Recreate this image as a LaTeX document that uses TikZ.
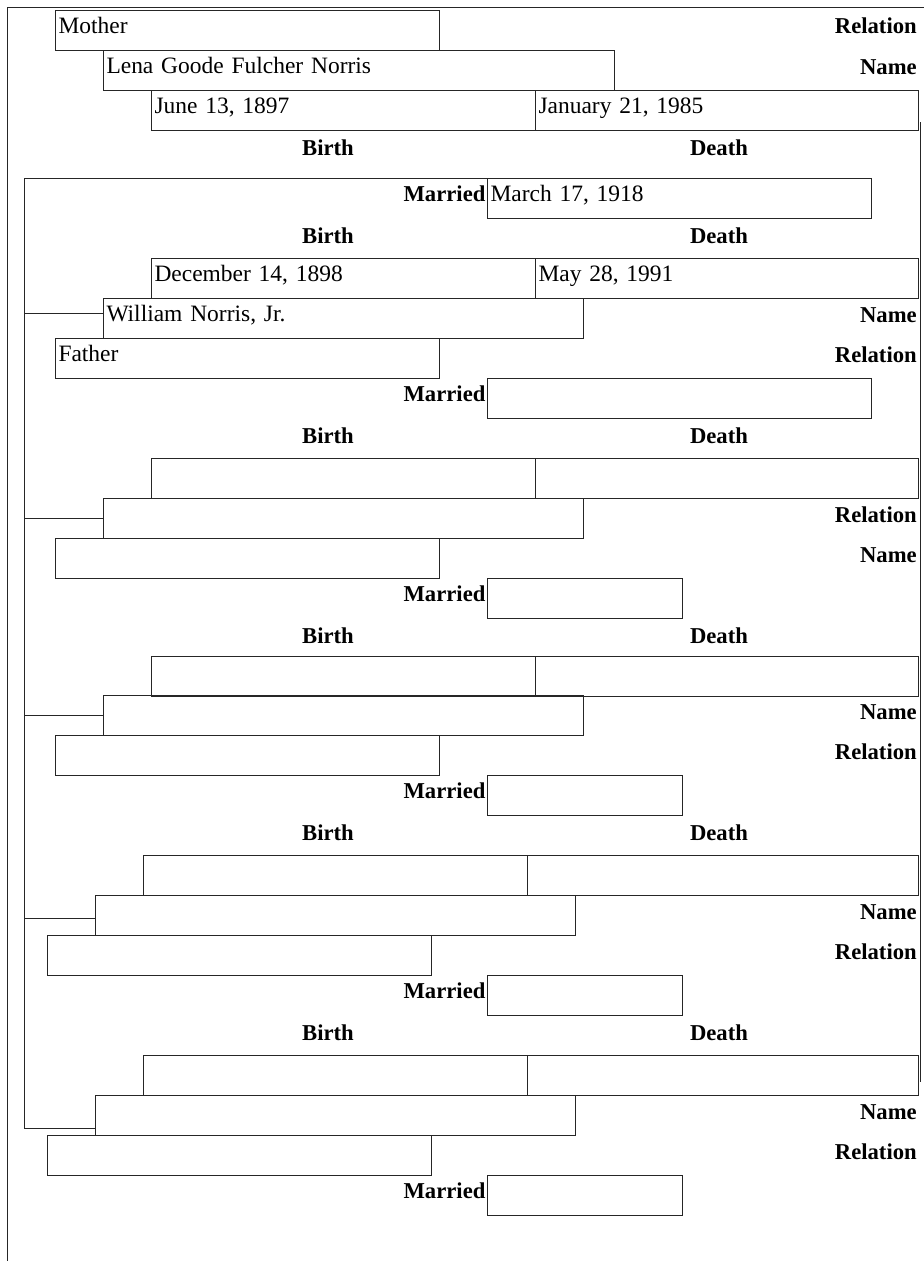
\documentclass[tikz,border=0pt]{standalone}
\usepackage{fontspec}
\setmainfont{Liberation Serif}
\usetikzlibrary{positioning}

\begin{document}
\begin{tikzpicture}[x=0.75pt,y=0.75pt,yscale=-1,xscale=1,
    every node/.style={font=\fontsize{17.6}{20}\selectfont},
    field/.style={draw=black!85, line width=0.75pt, anchor=north west, inner xsep=2.25pt, inner ysep=0pt,
      minimum height=30pt, text height=10.2pt, text depth=5pt, align=left, text width=#1},
    lbl/.style={font=\fontsize{17}{20}\selectfont\bfseries, inner sep=0pt},
    rule/.style={draw=black!85, line width=0.75pt}]
\useasboundingbox (0,0) rectangle (924,1261);

%Page frame
\draw [rule] (924,7) -- (7,7) -- (7,1261) ;
\draw [rule] (920,122) -- (920,1082) ;

% Mother
\node [field=283.5pt] (rel1) at (55,10) {Mother};
\node [field=378.75pt] (name1) at (103,50) {Lena Goode Fulcher Norris};
\node [field=283.5pt] (birth1) at (151,90) {June 13, 1897};
\node [field=282.75pt] (death1) at (535,90) {January 21, 1985};
\node [lbl, anchor=base east] (relT1) at (917,33) {Relation};
\node [lbl, anchor=base east] (nameT1) at (917,74) {Name};
\node [lbl, anchor=base] (birthT1) at (328,155) {Birth};
\node [lbl, anchor=base] (deathT1) at (719,155) {Death};
\node [field=283.5pt] (mar1) at (487,178) {March 17, 1918};
\node [lbl, left=1pt of mar1.base west, anchor=base east] (marT1) {Married};

% Father
\node [lbl, anchor=base] (birthT2) at (328,243) {Birth};
\node [lbl, anchor=base] (deathT2) at (719,243) {Death};
\node [field=283.5pt] (birth2) at (151,258) {December 14, 1898};
\node [field=282.75pt] (death2) at (535,258) {May 28, 1991};
\node [field=355.5pt] (name2) at (103,298) {William Norris, Jr.};
\node [field=283.5pt] (rel2) at (55,338) {Father};
\node [lbl, anchor=base east] (nameT2) at (917,322) {Name};
\node [lbl, anchor=base east] (relT2) at (917,362) {Relation};
\node [field=283.5pt] (mar2) at (487,378) {};
\node [lbl, left=1pt of mar2.base west, anchor=base east] (marT2) {Married};

% Child 1
\node [lbl, anchor=base] (birthT3) at (328,443) {Birth};
\node [lbl, anchor=base] (deathT3) at (719,443) {Death};
\node [field=283.5pt] (birth3) at (151,458) {};
\node [field=282.75pt] (death3) at (535,458) {};
\node [field=355.5pt] (name3) at (103,498) {};
\node [field=283.5pt] (rel3) at (55,538) {};
\node [lbl, anchor=base east] (relT3) at (917,522) {Relation};
\node [lbl, anchor=base east] (nameT3) at (917,562) {Name};
\node [field=141.75pt] (mar3) at (487,578) {};
\node [lbl, left=1pt of mar3.base west, anchor=base east] (marT3) {Married};

% Child 2
\node [lbl, anchor=base] (birthT4) at (328,643) {Birth};
\node [lbl, anchor=base] (deathT4) at (719,643) {Death};
\node [field=283.5pt] (birth4) at (151,656) {};
\node [field=282.75pt] (death4) at (535,656) {};
\node [field=355.5pt] (name4) at (103,695) {};
\node [field=283.5pt] (rel4) at (55,735) {};
\node [lbl, anchor=base east] (nameT4) at (917,719) {Name};
\node [lbl, anchor=base east] (relT4) at (917,759) {Relation};
\node [field=141.75pt] (mar4) at (487,775) {};
\node [lbl, left=1pt of mar4.base west, anchor=base east] (marT4) {Married};

% Child 3
\node [lbl, anchor=base] (birthT5) at (328,840) {Birth};
\node [lbl, anchor=base] (deathT5) at (719,840) {Death};
\node [field=283.5pt] (birth5) at (143,855) {};
\node [field=288.75pt] (death5) at (527,855) {};
\node [field=355.5pt] (name5) at (95,895) {};
\node [field=283.5pt] (rel5) at (47,935) {};
\node [lbl, anchor=base east] (nameT5) at (917,919) {Name};
\node [lbl, anchor=base east] (relT5) at (917,959) {Relation};
\node [field=141.75pt] (mar5) at (487,975) {};
\node [lbl, left=1pt of mar5.base west, anchor=base east] (marT5) {Married};

% Child 4
\node [lbl, anchor=base] (birthT6) at (328,1040) {Birth};
\node [lbl, anchor=base] (deathT6) at (719,1040) {Death};
\node [field=283.5pt] (birth6) at (143,1055) {};
\node [field=288.75pt] (death6) at (527,1055) {};
\node [field=355.5pt] (name6) at (95,1095) {};
\node [field=283.5pt] (rel6) at (47,1135) {};
\node [lbl, anchor=base east] (nameT6) at (917,1119) {Name};
\node [lbl, anchor=base east] (relT6) at (917,1159) {Relation};
\node [field=141.75pt] (mar6) at (487,1175) {};
\node [lbl, left=1pt of mar6.base west, anchor=base east] (marT6) {Married};

%Family bracket
\coordinate (brk) at (24,0);
\coordinate (brkEnd) at (24,1128);
\draw [rule] (mar1.north west) -- (brk |- mar1.north west) -- (brkEnd) -- (brkEnd -| name6.west) ;
\coordinate (tick2) at (25,313);
\coordinate (tick3) at (25,518);
\coordinate (tick4) at (25,715);
\coordinate (tick5) at (24,918);
\draw [rule] (tick2) -- (tick2 -| name2.west) ;
\draw [rule] (tick3) -- (tick3 -| name3.west) ;
\draw [rule] (tick4) -- (tick4 -| name4.west) ;
\draw [rule] (tick5) -- (tick5 -| name5.west) ;
\end{tikzpicture}
\end{document}
